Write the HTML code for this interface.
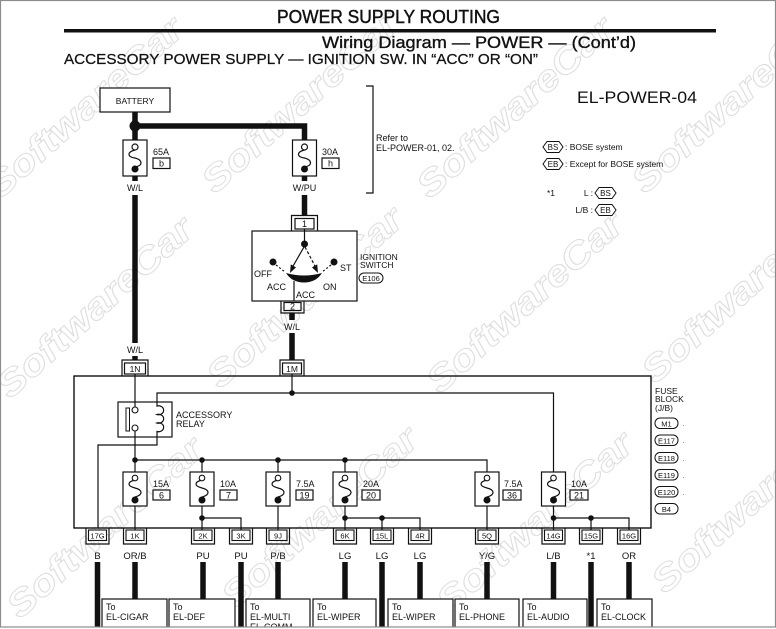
<!DOCTYPE html>
<html><head><meta charset="utf-8"><style>
html,body{margin:0;padding:0;background:#fff;}
svg{display:block;}
text{font-family:"Liberation Sans",Arial,sans-serif;fill:#111;}
</style></head><body>
<svg width="776" height="629" viewBox="0 0 776 629" xmlns="http://www.w3.org/2000/svg">
<rect x="0" y="0" width="776" height="629" fill="#fff"/>
<!-- watermarks -->
<g fill="none" stroke="#dedede" stroke-width="1" font-size="36" font-weight="bold" font-style="italic">
<text x="0" y="200" transform="rotate(-42 0 200)" textLength="250" lengthAdjust="spacingAndGlyphs" style="fill:none">SoftwareCar</text>
<text x="215" y="195" transform="rotate(-42 215 195)" textLength="250" lengthAdjust="spacingAndGlyphs" style="fill:none">SoftwareCar</text>
<text x="430" y="200" transform="rotate(-42 430 200)" textLength="250" lengthAdjust="spacingAndGlyphs" style="fill:none">SoftwareCar</text>
<text x="645" y="195" transform="rotate(-42 645 195)" textLength="250" lengthAdjust="spacingAndGlyphs" style="fill:none">SoftwareCar</text>
<text x="10" y="400" transform="rotate(-42 10 400)" textLength="250" lengthAdjust="spacingAndGlyphs" style="fill:none">SoftwareCar</text>
<text x="220" y="390" transform="rotate(-42 220 390)" textLength="250" lengthAdjust="spacingAndGlyphs" style="fill:none">SoftwareCar</text>
<text x="440" y="395" transform="rotate(-42 440 395)" textLength="250" lengthAdjust="spacingAndGlyphs" style="fill:none">SoftwareCar</text>
<text x="655" y="385" transform="rotate(-42 655 385)" textLength="250" lengthAdjust="spacingAndGlyphs" style="fill:none">SoftwareCar</text>
<text x="20" y="620" transform="rotate(-42 20 620)" textLength="250" lengthAdjust="spacingAndGlyphs" style="fill:none">SoftwareCar</text>
<text x="235" y="610" transform="rotate(-42 235 610)" textLength="250" lengthAdjust="spacingAndGlyphs" style="fill:none">SoftwareCar</text>
<text x="450" y="615" transform="rotate(-42 450 615)" textLength="250" lengthAdjust="spacingAndGlyphs" style="fill:none">SoftwareCar</text>
<text x="665" y="595" transform="rotate(-42 665 595)" textLength="250" lengthAdjust="spacingAndGlyphs" style="fill:none">SoftwareCar</text>
</g>

<!-- header -->
<text x="277" y="23" font-size="18.5" stroke="#111" stroke-width="0.45" textLength="223" lengthAdjust="spacingAndGlyphs">POWER SUPPLY ROUTING</text>
<rect x="64" y="29" width="652" height="3.5" fill="#111"/>
<text x="322" y="48" font-size="17" stroke="#111" stroke-width="0.35" textLength="314" lengthAdjust="spacingAndGlyphs">Wiring Diagram — POWER — (Cont’d)</text>
<text x="64" y="64" font-size="14.5" stroke="#111" stroke-width="0.25" textLength="474" lengthAdjust="spacingAndGlyphs">ACCESSORY POWER SUPPLY — IGNITION SW. IN “ACC” OR “ON”</text>

<text x="577" y="103" font-size="16.5" textLength="120" lengthAdjust="spacingAndGlyphs">EL-POWER-04</text>

<!-- legend -->
<g stroke="#111" stroke-width="1" fill="#fff">
<polygon points="543,147 547,141.5 559,141.5 563,147 559,152.5 547,152.5"/>
<polygon points="543,164 547,158.5 559,158.5 563,164 559,169.5 547,169.5"/>
<polygon points="595,193 599,187.5 612,187.5 616,193 612,198.5 599,198.5"/>
<polygon points="595,210 599,204.5 612,204.5 616,210 612,215.5 599,215.5"/>
</g>
<g font-size="8.5">
<text x="553" y="150" text-anchor="middle" font-size="8">BS</text>
<text x="553" y="167" text-anchor="middle" font-size="8">EB</text>
<text x="605.5" y="196" text-anchor="middle" font-size="8">BS</text>
<text x="605.5" y="213" text-anchor="middle" font-size="8">EB</text>
<text x="565" y="150">: BOSE system</text>
<text x="565" y="167">: Except for BOSE system</text>
<text x="547" y="196">*1</text>
<text x="593" y="196" text-anchor="end">L :</text>
<text x="593" y="213" text-anchor="end">L/B :</text>
</g>

<!-- battery -->
<rect x="100" y="88" width="70" height="24" fill="#fff" stroke="#111" stroke-width="1.2"/>
<text x="135" y="104" font-size="8.5" text-anchor="middle">BATTERY</text>

<g stroke="#111" stroke-width="5.5" fill="none" stroke-linejoin="miter">
<line x1="135" y1="112" x2="135" y2="140"/>
<polyline points="135,126 304.5,126 304.5,140"/>
<line x1="135" y1="195" x2="135" y2="343"/>
<line x1="135" y1="356" x2="135" y2="360"/>
<line x1="304.5" y1="195" x2="304.5" y2="215"/>
<line x1="292" y1="313" x2="292" y2="320"/>
<line x1="292" y1="333" x2="292" y2="360"/>
<line x1="135" y1="176" x2="135" y2="181"/>
<line x1="304.5" y1="176" x2="304.5" y2="181"/>
</g>
<circle cx="135" cy="126" r="5.5" fill="#111"/>

<!-- top fuses -->
<g stroke="#111" stroke-width="1.2" fill="#fff">
<rect x="123" y="140" width="24" height="36"/>
<rect x="292.5" y="140" width="24" height="36"/>
<rect x="153" y="158" width="17" height="10.5"/>
<rect x="322" y="158" width="17" height="10.5"/>
</g>
<g stroke="#111" stroke-width="1.2" fill="none">
<path d="M135,150 C127,152 127,157 135,158 C143,160 143,166 135,167"/>
<path d="M304.5,150 C296.5,152 296.5,157 304.5,158 C312.5,160 312.5,166 304.5,167"/>
</g>
<circle cx="135" cy="147" r="3" fill="#fff" stroke="#111" stroke-width="1.2"/>
<circle cx="304.5" cy="147" r="3" fill="#fff" stroke="#111" stroke-width="1.2"/>
<circle cx="135" cy="169" r="3.5" fill="#111"/>
<circle cx="304.5" cy="169" r="3.5" fill="#111"/>
<g font-size="9">
<text x="153" y="155">65A</text>
<text x="161.5" y="166.5" text-anchor="middle">b</text>
<text x="322" y="155">30A</text>
<text x="330.5" y="166.5" text-anchor="middle">h</text>
<text x="135" y="191" text-anchor="middle">W/L</text>
<text x="304.5" y="191" text-anchor="middle">W/PU</text>
<text x="135" y="353" text-anchor="middle">W/L</text>
<text x="292" y="330" text-anchor="middle">W/L</text>
</g>

<!-- bracket -->
<polyline points="366,86 373,86 373,193 366,193" fill="none" stroke="#111" stroke-width="1.2"/>
<text x="376" y="141" font-size="9">Refer to</text>
<text x="376" y="151" font-size="9">EL-POWER-01, 02.</text>

<!-- ignition switch -->
<rect x="252" y="231" width="105" height="70" fill="#fff" stroke="#111" stroke-width="1.2"/>
<g stroke="#111" stroke-width="1.2" fill="none">
<path d="M291.5,231 L291.5,215.5 L317.5,215.5 L317.5,231"/>
<rect x="295" y="218.5" width="19" height="10.5" fill="#fff"/>
<line x1="304.5" y1="229" x2="304.5" y2="244"/>
<line x1="304" y1="247" x2="292.5" y2="267"/>
<line x1="305" y1="247" x2="315.5" y2="267" stroke-dasharray="3,2"/>
<line x1="276" y1="265" x2="285" y2="272" stroke-dasharray="2,2"/>
<line x1="331" y1="265" x2="322" y2="272" stroke-dasharray="2,2"/>
<line x1="294" y1="281" x2="294" y2="301"/>
<path d="M281,301 L281,313 L304,313 L304,301"/>
<rect x="284" y="302.5" width="17" height="8" fill="#fff"/>
</g>
<circle cx="304.5" cy="244" r="3.5" fill="#111"/>
<circle cx="273" cy="262" r="3.5" fill="#111"/>
<circle cx="334" cy="262" r="3.5" fill="#111"/>
<polygon points="290,273 296,267.4 290.8,264.4" fill="#111"/>
<polygon points="318,273 312,267.4 317.2,264.4" fill="#111"/>
<path d="M286,273 Q304,278 322,273 Q316,282.5 304,282.5 Q292,282.5 286,273 Z" fill="#111"/>
<g font-size="9">
<text x="304.5" y="227" text-anchor="middle">1</text>
<text x="292.5" y="309.5" text-anchor="middle">2</text>
<text x="254" y="277">OFF</text>
<text x="267" y="290">ACC</text>
<text x="296" y="298">ACC</text>
<text x="323" y="290">ON</text>
<text x="340" y="271">ST</text>
</g>
<g font-size="8.5">
<text x="360" y="260">IGNITION</text>
<text x="360" y="268">SWITCH</text>
</g>
<rect x="359" y="273" width="24" height="10" rx="5" fill="#fff" stroke="#111" stroke-width="1"/>
<text x="371" y="281" font-size="7.5" text-anchor="middle">E106</text>

<!-- fuse block -->
<rect x="74" y="376" width="577" height="152" fill="none" stroke="#111" stroke-width="1.4"/>

<!-- top connectors 1N, 1M -->
<g stroke="#111" stroke-width="1.2" fill="#fff">
<path d="M122,376 L122,360 L148,360 L148,376" fill="none"/>
<rect x="124.5" y="363" width="21" height="11"/>
<path d="M280,376 L280,360 L304,360 L304,376" fill="none"/>
<rect x="282.5" y="363" width="19" height="11"/>
</g>
<g font-size="8.5" text-anchor="middle">
<text x="135" y="372">1N</text>
<text x="292" y="372">1M</text>
</g>

<!-- internal wiring -->
<g stroke="#111" stroke-width="1.2" fill="none">
<line x1="292" y1="374" x2="292" y2="393"/>
<polyline points="157,402 157,393 553.5,393 553.5,478"/>
<line x1="135" y1="374" x2="135" y2="407"/>
<line x1="135" y1="431" x2="135" y2="478"/>
<polyline points="157,437 157,445 98,445 98,528"/>
<polyline points="135,460 487,460 487,478"/>
<line x1="202" y1="460" x2="202" y2="478"/>
<line x1="278" y1="460" x2="278" y2="478"/>
<line x1="345" y1="460" x2="345" y2="478"/>
<line x1="135" y1="500" x2="135" y2="530"/>
<line x1="202" y1="500" x2="202" y2="530"/>
<polyline points="202,518 241,518 241,530"/>
<line x1="278" y1="500" x2="278" y2="530"/>
<line x1="345" y1="500" x2="345" y2="530"/>
<polyline points="345,518 420,518 420,530"/>
<line x1="382" y1="518" x2="382" y2="530"/>
<line x1="487" y1="500" x2="487" y2="530"/>
<line x1="553.5" y1="500" x2="553.5" y2="530"/>
<polyline points="553.5,518 629,518 629,530"/>
<line x1="591" y1="518" x2="591" y2="530"/>
</g>
<g fill="#111">
<circle cx="292" cy="393" r="2.8"/>
<circle cx="135" cy="460" r="2.8"/>
<circle cx="202" cy="460" r="2.8"/>
<circle cx="278" cy="460" r="2.8"/>
<circle cx="345" cy="460" r="2.8"/>
<circle cx="202" cy="518" r="2.8"/>
<circle cx="345" cy="518" r="2.8"/>
<circle cx="382" cy="518" r="2.8"/>
<circle cx="553.5" cy="518" r="2.8"/>
<circle cx="591" cy="518" r="2.8"/>
</g>

<!-- relay -->
<rect x="118" y="402" width="54" height="35" fill="none" stroke="#111" stroke-width="1.2"/>
<rect x="126" y="408" width="3.5" height="23" fill="#fff" stroke="#111" stroke-width="1"/>
<circle cx="135" cy="410" r="3" fill="#fff" stroke="#111" stroke-width="1.1"/>
<circle cx="135" cy="428" r="3" fill="#fff" stroke="#111" stroke-width="1.1"/>
<path d="M157,402 L157,406 a5,4.5 0 1 1 0,8.5 a5,4.5 0 1 1 0,8.5 a5,4.5 0 1 1 0,8.5 L157,437" fill="none" stroke="#111" stroke-width="1.2"/>
<text x="176" y="418" font-size="9">ACCESSORY</text>
<text x="176" y="427" font-size="9">RELAY</text>

<!-- fuse row -->
<g stroke="#111" stroke-width="1.2" fill="#fff">
<rect x="123" y="472" width="24" height="34"/>
<rect x="190" y="472" width="24" height="34"/>
<rect x="266" y="472" width="24" height="34"/>
<rect x="333" y="472" width="24" height="34"/>
<rect x="475" y="472" width="24" height="34"/>
<rect x="541.5" y="472" width="24" height="34"/>
<rect x="153" y="490" width="17" height="10"/>
<rect x="220" y="490" width="17" height="10"/>
<rect x="296" y="490" width="17" height="10"/>
<rect x="362" y="490" width="18" height="10"/>
<rect x="503" y="490" width="18" height="10"/>
<rect x="570" y="490" width="18" height="10"/>
</g>
<g stroke="#111" stroke-width="1.2" fill="none">
<path d="M135,480 C127,482 127,486 135,488 C143,490 143,495 135,497"/>
<path d="M202,480 C194,482 194,486 202,488 C210,490 210,495 202,497"/>
<path d="M278,480 C270,482 270,486 278,488 C286,490 286,495 278,497"/>
<path d="M345,480 C337,482 337,486 345,488 C353,490 353,495 345,497"/>
<path d="M487,480 C479,482 479,486 487,488 C495,490 495,495 487,497"/>
<path d="M553.5,480 C545.5,482 545.5,486 553.5,488 C561.5,490 561.5,495 553.5,497"/>
</g>
<g fill="#fff" stroke="#111" stroke-width="1.1">
<circle cx="135" cy="478" r="2.8"/>
<circle cx="202" cy="478" r="2.8"/>
<circle cx="278" cy="478" r="2.8"/>
<circle cx="345" cy="478" r="2.8"/>
<circle cx="487" cy="478" r="2.8"/>
<circle cx="553.5" cy="478" r="2.8"/>
</g>
<g fill="#111">
<circle cx="135" cy="500" r="3.5"/>
<circle cx="202" cy="500" r="3.5"/>
<circle cx="278" cy="500" r="3.5"/>
<circle cx="345" cy="500" r="3.5"/>
<circle cx="487" cy="500" r="3.5"/>
<circle cx="553.5" cy="500" r="3.5"/>
</g>
<g font-size="9">
<text x="153" y="487">15A</text>
<text x="220" y="487">10A</text>
<text x="296" y="487">7.5A</text>
<text x="363" y="487">20A</text>
<text x="504" y="487">7.5A</text>
<text x="571" y="487">10A</text>
</g>
<g font-size="9" text-anchor="middle">
<text x="161.5" y="498.5">6</text>
<text x="228.5" y="498.5">7</text>
<text x="304.5" y="498.5">19</text>
<text x="371" y="498.5">20</text>
<text x="512" y="498.5">36</text>
<text x="579" y="498.5">21</text>
</g>

<!-- fuse block labels -->
<g font-size="8.5">
<text x="655" y="394">FUSE</text>
<text x="655" y="402">BLOCK</text>
<text x="655" y="411">(J/B)</text>
</g>
<g fill="#fff" stroke="#111" stroke-width="1">
<rect x="655" y="418" width="23" height="10.5" rx="5"/>
<rect x="655" y="435" width="23" height="10.5" rx="5"/>
<rect x="655" y="452.5" width="23" height="10.5" rx="5"/>
<rect x="655" y="469.5" width="23" height="10.5" rx="5"/>
<rect x="655" y="486.5" width="23" height="10.5" rx="5"/>
<rect x="655" y="503.5" width="23" height="10.5" rx="5"/>
</g>
<g font-size="7.5" text-anchor="middle">
<text x="666.5" y="426.5">M1</text>
<text x="666.5" y="443.5">E117</text>
<text x="666.5" y="461">E118</text>
<text x="666.5" y="478">E119</text>
<text x="666.5" y="495">E120</text>
<text x="666.5" y="512">B4</text>
</g>
<g fill="#999">
<rect x="683" y="425" width="1" height="1"/>
<rect x="683" y="442" width="1" height="1"/>
<rect x="683" y="460" width="1" height="1"/>
<rect x="683" y="477" width="1" height="1"/>
<rect x="683" y="494" width="1" height="1"/>
</g>

<!-- bottom connectors -->
<g stroke="#111" stroke-width="1.2" fill="none">
<path d="M86,528 L86,544 L109,544 L109,528"/>
<path d="M123.5,528 L123.5,544 L146.5,544 L146.5,528"/>
<path d="M191.5,528 L191.5,544 L214.5,544 L214.5,528"/>
<path d="M229.5,528 L229.5,544 L252.5,544 L252.5,528"/>
<path d="M266.5,528 L266.5,544 L289.5,544 L289.5,528"/>
<path d="M333.5,528 L333.5,544 L356.5,544 L356.5,528"/>
<path d="M370.5,528 L370.5,544 L393.5,544 L393.5,528"/>
<path d="M408.5,528 L408.5,544 L431.5,544 L431.5,528"/>
<path d="M475.5,528 L475.5,544 L498.5,544 L498.5,528"/>
<path d="M542,528 L542,544 L565,544 L565,528"/>
<path d="M579.5,528 L579.5,544 L602.5,544 L602.5,528"/>
<path d="M617.5,528 L617.5,544 L640.5,544 L640.5,528"/>
</g>
<g stroke="#111" stroke-width="1.1" fill="#fff">
<rect x="88.5" y="530" width="18" height="10.5"/>
<rect x="126" y="530" width="18" height="10.5"/>
<rect x="194" y="530" width="18" height="10.5"/>
<rect x="232" y="530" width="18" height="10.5"/>
<rect x="269" y="530" width="18" height="10.5"/>
<rect x="336" y="530" width="18" height="10.5"/>
<rect x="373" y="530" width="18" height="10.5"/>
<rect x="411" y="530" width="18" height="10.5"/>
<rect x="478" y="530" width="18" height="10.5"/>
<rect x="544.5" y="530" width="18" height="10.5"/>
<rect x="582" y="530" width="18" height="10.5"/>
<rect x="620" y="530" width="18" height="10.5"/>
</g>
<g font-size="7.5" text-anchor="middle">
<text x="97.5" y="538.5">17G</text>
<text x="135" y="538.5">1K</text>
<text x="203" y="538.5">2K</text>
<text x="241" y="538.5">3K</text>
<text x="278" y="538.5">9J</text>
<text x="345" y="538.5">6K</text>
<text x="382" y="538.5">15L</text>
<text x="420" y="538.5">4R</text>
<text x="487" y="538.5">5Q</text>
<text x="553.5" y="538.5">14G</text>
<text x="591" y="538.5">15G</text>
<text x="629" y="538.5">16G</text>
</g>
<g font-size="9.5" text-anchor="middle">
<text x="97.5" y="559">B</text>
<text x="135" y="559">OR/B</text>
<text x="203" y="559">PU</text>
<text x="241" y="559">PU</text>
<text x="278" y="559">P/B</text>
<text x="345" y="559">LG</text>
<text x="382" y="559">LG</text>
<text x="420" y="559">LG</text>
<text x="487" y="559">Y/G</text>
<text x="553.5" y="559">L/B</text>
<text x="591" y="559">*1</text>
<text x="629" y="559">OR</text>
</g>

<!-- bottom thick wires -->
<g stroke="#111" stroke-width="5.5">
<line x1="97.5" y1="562" x2="97.5" y2="629"/>
<line x1="135" y1="562" x2="135" y2="600"/>
<line x1="203" y1="562" x2="203" y2="600"/>
<line x1="241" y1="562" x2="241" y2="629"/>
<line x1="278" y1="562" x2="278" y2="600"/>
<line x1="345" y1="562" x2="345" y2="600"/>
<line x1="382" y1="562" x2="382" y2="629"/>
<line x1="420" y1="562" x2="420" y2="600"/>
<line x1="487" y1="562" x2="487" y2="600"/>
<line x1="553.5" y1="562" x2="553.5" y2="600"/>
<line x1="591" y1="562" x2="591" y2="629"/>
<line x1="629" y1="562" x2="629" y2="600"/>
</g>

<!-- destination boxes -->
<g stroke="#111" stroke-width="1.2" fill="#fff">
<rect x="102" y="599" width="65" height="40"/>
<rect x="169" y="599" width="66" height="40"/>
<rect x="246" y="599" width="64" height="40"/>
<rect x="313" y="599" width="63" height="40"/>
<rect x="388" y="599" width="65" height="40"/>
<rect x="455" y="599" width="64" height="40"/>
<rect x="523" y="599" width="64" height="40"/>
<rect x="597" y="599" width="55" height="40"/>
</g>
<g font-size="9">
<text x="106" y="610">To</text><text x="106" y="620">EL-CIGAR</text>
<text x="173" y="610">To</text><text x="173" y="620">EL-DEF</text>
<text x="250" y="610">To</text><text x="250" y="620">EL-MULTI</text><text x="250" y="630">EL-COMM</text>
<text x="317" y="610">To</text><text x="317" y="620">EL-WIPER</text>
<text x="392" y="610">To</text><text x="392" y="620">EL-WIPER</text>
<text x="459" y="610">To</text><text x="459" y="620">EL-PHONE</text>
<text x="527" y="610">To</text><text x="527" y="620">EL-AUDIO</text>
<text x="601" y="610">To</text><text x="601" y="620">EL-CLOCK</text>
</g>

<!-- image frame -->
<rect x="0" y="627" width="776" height="2" fill="#fff"/>
<rect x="0.5" y="0.5" width="775" height="626.5" fill="none" stroke="#8c8c8c" stroke-width="1.2"/>
</svg>
</body></html>
